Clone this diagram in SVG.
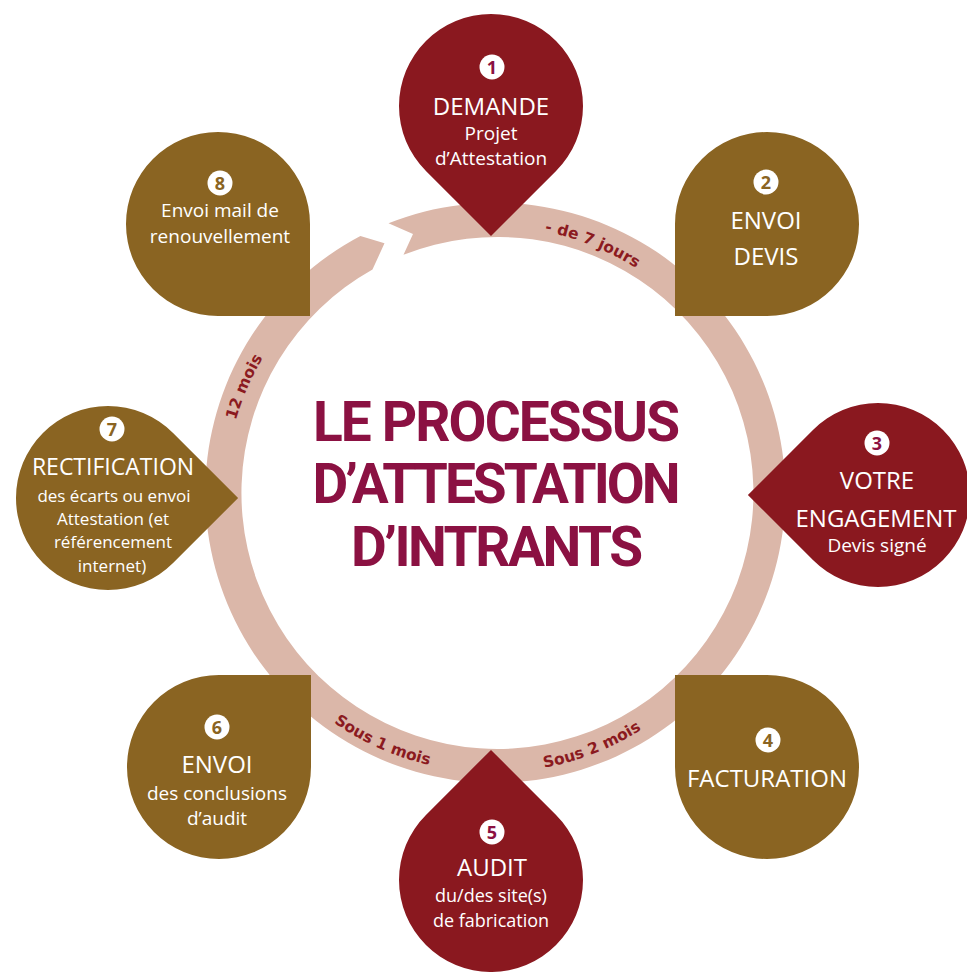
<svg xmlns="http://www.w3.org/2000/svg" width="967" height="972" viewBox="0 0 967 972">
<defs>
<style>
.red{fill:#8a181f}
.olive{fill:#8a6422}
.ring{fill:#dbb7a9}
.h{font-family:"Open Sans","Noto Sans",sans-serif;fill:#ffffff;text-anchor:middle;font-size:24px}
.s{font-family:"Open Sans","Noto Sans",sans-serif;fill:#ffffff;text-anchor:middle;font-size:19px}
.badge{fill:#ffffff}
.num{font-family:"Open Sans","Noto Sans",sans-serif;font-weight:700;font-size:18px;text-anchor:middle}
.nr{fill:#8b1142}
.no{fill:#8a6422}
.lbl{font-family:"DejaVu Sans",sans-serif;font-weight:700;font-size:15.5px;fill:#8b1a1f;text-anchor:middle}
.title{font-family:Roboto,"DejaVu Sans",sans-serif;font-weight:700;font-size:55px;fill:#8b1142;text-anchor:middle}
</style>
<path id="drop" d="M65.05,65.05 A92,92 0 1 1 65.05,-65.05 L130.1,0 Z"/>
<path id="cw" d="M225.5,494 A267.5,267.5 0 1 1 760.5,494 A267.5,267.5 0 1 1 225.5,494"/>
<path id="ccw" d="M214.5,494 A278.5,278.5 0 1 0 771.5,494 A278.5,278.5 0 1 0 214.5,494"/>
</defs>
<rect width="967" height="972" fill="#ffffff"/>
<g id="connectors">
<path class="ring" d="M388.5,223.2 A290,290 0 1 1 360.4,236.1 L384.5,243.3 L372.5,269.5 A256,256 0 1 0 403.5,254.8 L413,234 Z"/>
<text class="lbl"><textPath href="#cw" startOffset="521.5">- de 7 jours</textPath></text>
<text class="lbl"><textPath href="#cw" startOffset="108.8">12 mois</textPath></text>
<text class="lbl"><textPath href="#ccw" startOffset="320.3">Sous 1 mois</textPath></text>
<text class="lbl"><textPath href="#ccw" startOffset="541.5">Sous 2 mois</textPath></text>
</g>
<g id="title">
<text class="title" x="496.5" y="441" textLength="367" lengthAdjust="spacing">LE PROCESSUS</text>
<text class="title" x="496.5" y="503" textLength="368" lengthAdjust="spacing">D’ATTESTATION</text>
<text class="title" x="497" y="566" textLength="292" lengthAdjust="spacing">D’INTRANTS</text>
</g>
<g id="node1">
<use href="#drop" class="red" transform="translate(491,106) rotate(90)"/>
<circle class="badge" cx="492" cy="67" r="12.5"/>
<text class="num nr" x="492" y="73.5">1</text>
<text class="h" x="491" y="115">DEMANDE</text>
<text class="s" x="491" y="140">Projet</text>
<text class="s" x="491" y="165">d’Attestation</text>
</g>
<g id="node2">
<use href="#drop" class="olive" transform="translate(767,224) rotate(135)"/>
<circle class="badge" cx="766" cy="182" r="12.5"/>
<text class="num no" x="766" y="188.5">2</text>
<text class="h" x="766" y="229">ENVOI</text>
<text class="h" x="766" y="265">DEVIS</text>
</g>
<g id="node3">
<use href="#drop" class="red" transform="translate(878,495) rotate(180)"/>
<circle class="badge" cx="877" cy="443" r="12.5"/>
<text class="num nr" x="877" y="449.5">3</text>
<text class="h" x="877" y="489">VOTRE</text>
<text class="h" x="876" y="527">ENGAGEMENT</text>
<text class="s" x="877" y="552">Devis signé</text>
</g>
<g id="node4">
<use href="#drop" class="olive" transform="translate(767,767) rotate(225)"/>
<circle class="badge" cx="768" cy="740" r="12.5"/>
<text class="num no" x="768" y="746.5">4</text>
<text class="h" x="767" y="787">FACTURATION</text>
</g>
<g id="node5">
<use href="#drop" class="red" transform="translate(491,880) rotate(270)"/>
<circle class="badge" cx="492" cy="832" r="12.5"/>
<text class="num nr" x="492" y="838.5">5</text>
<text class="h" x="492" y="876">AUDIT</text>
<text class="s" x="491" y="902" style="font-size:18px">du/des site(s)</text>
<text class="s" x="491" y="927" style="font-size:18px">de fabrication</text>
</g>
<g id="node6">
<use href="#drop" class="olive" transform="translate(219,767) rotate(315)"/>
<circle class="badge" cx="217" cy="727" r="12.5"/>
<text class="num no" x="217" y="733.5">6</text>
<text class="h" x="217" y="773">ENVOI</text>
<text class="s" x="217" y="800">des conclusions</text>
<text class="s" x="217" y="825">d’audit</text>
</g>
<g id="node7">
<use href="#drop" class="olive" transform="translate(108,498)"/>
<circle class="badge" cx="112" cy="429" r="12.5"/>
<text class="num no" x="112" y="435.5">7</text>
<text class="h" x="113" y="475" style="font-size:23px">RECTIFICATION</text>
<text class="s" x="114" y="502" style="font-size:17px">des écarts ou envoi</text>
<text class="s" x="113" y="525" style="font-size:17px">Attestation (et</text>
<text class="s" x="113" y="548" style="font-size:17px">référencement</text>
<text class="s" x="112" y="572" style="font-size:17px">internet)</text>
</g>
<g id="node8">
<use href="#drop" class="olive" transform="translate(218,224) rotate(45)"/>
<circle class="badge" cx="220" cy="183" r="12.5"/>
<text class="num no" x="220" y="189.5">8</text>
<text class="s" x="220" y="217">Envoi mail de</text>
<text class="s" x="220" y="243">renouvellement</text>
</g>
</svg>
